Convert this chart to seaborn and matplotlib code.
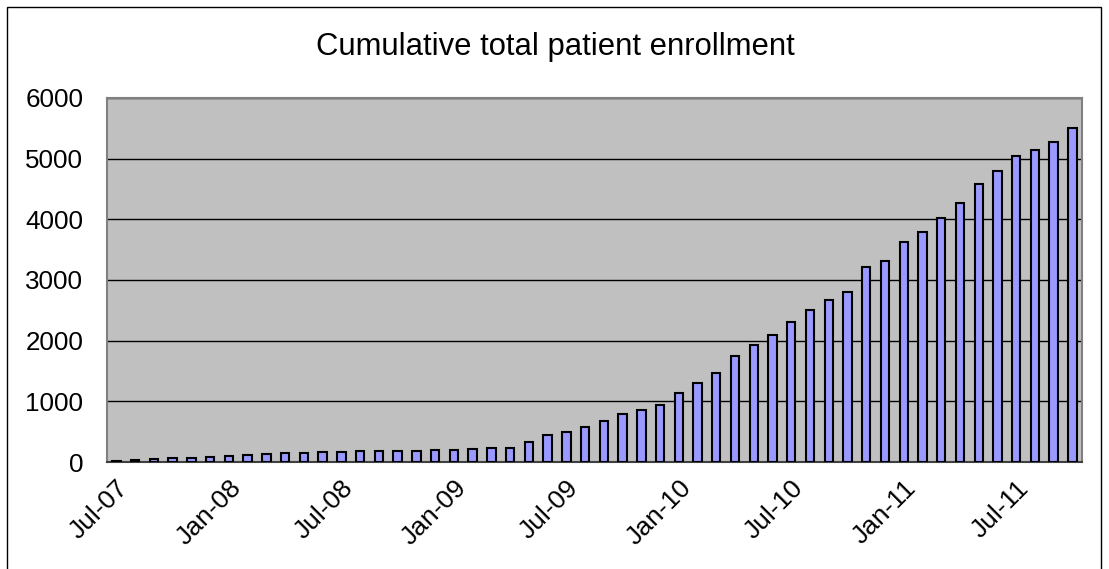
import pandas as pd
import numpy as np
import matplotlib
matplotlib.use("Agg")
import matplotlib.pyplot as plt
import seaborn as sns

# monthly data, Jul-07 .. Oct-11
months = pd.date_range("2007-07-01", "2011-10-01", freq="MS").strftime("%b-%y").tolist()
enrollment = [18, 40, 51, 68, 72, 90, 105, 122, 133, 150, 150, 162, 172, 178, 178, 178, 185,
              190, 205, 220, 230, 235, 330, 445, 495, 585, 680, 795, 860, 945, 1145, 1300,
              1460, 1745, 1920, 2090, 2315, 2505, 2665, 2800, 3210, 3310, 3620, 3795, 4020,
              4265, 4580, 4800, 5050, 5145, 5275, 5500]
yticks = [0, 1000, 2000, 3000, 4000, 5000, 6000]

df = pd.DataFrame({"month": months, "enrollment": enrollment})

sns.set_style("white")
plt.rcParams['font.family'] = ['Liberation Sans', 'DejaVu Sans']
plt.rcParams['text.color'] = 'black'
plt.rcParams['xtick.color'] = 'black'
plt.rcParams['ytick.color'] = 'black'

fig = plt.figure(figsize=(11.09, 5.69), dpi=100)
ax = fig.add_axes([0.0965, 0.188, 0.879, 0.640])

sns.barplot(data=df, x="month", y="enrollment", color="#9999FF", saturation=1,
            width=0.45, edgecolor="black", linewidth=1.5, ax=ax, zorder=3)

ax.set_facecolor("#C0C0C0")
ax.set_ylim(0, 6000)
ax.set_xlim(-0.5, len(months) - 0.5)
ax.set_yticks(yticks)
ax.set_yticklabels([str(v) for v in yticks], fontsize=18.7)
ax.yaxis.grid(True, color="black", linewidth=1, zorder=0)
ax.set_axisbelow(True)

ax.set_xticks(range(0, len(months), 6))
ax.set_xticklabels(months[::6], rotation=45, ha="right", rotation_mode="anchor", fontsize=19)
ax.tick_params(axis="y", length=0, pad=17)
ax.tick_params(axis="x", length=0, pad=10)
ax.set_xlabel("")
ax.set_ylabel("")

for s in ["left", "top", "right"]:
    ax.spines[s].set_color("#808080")
    ax.spines[s].set_linewidth(1.5)
ax.spines["bottom"].set_color("#404040")
ax.spines["bottom"].set_linewidth(1.5)

fig.text(0.5005, 1 - 47 / 569, "Cumulative total patient enrollment", ha="center", va="center",
         fontsize=22.3)

# outer chart frame
frame = plt.Rectangle((7 / 1109, -0.05), (1101 - 7) / 1109, 1.05 - 7 / 569,
                      transform=fig.transFigure, fill=False, edgecolor="black", linewidth=1)
fig.patches.append(frame)

plt.savefig("out.png", dpi=100)
plt.close()
